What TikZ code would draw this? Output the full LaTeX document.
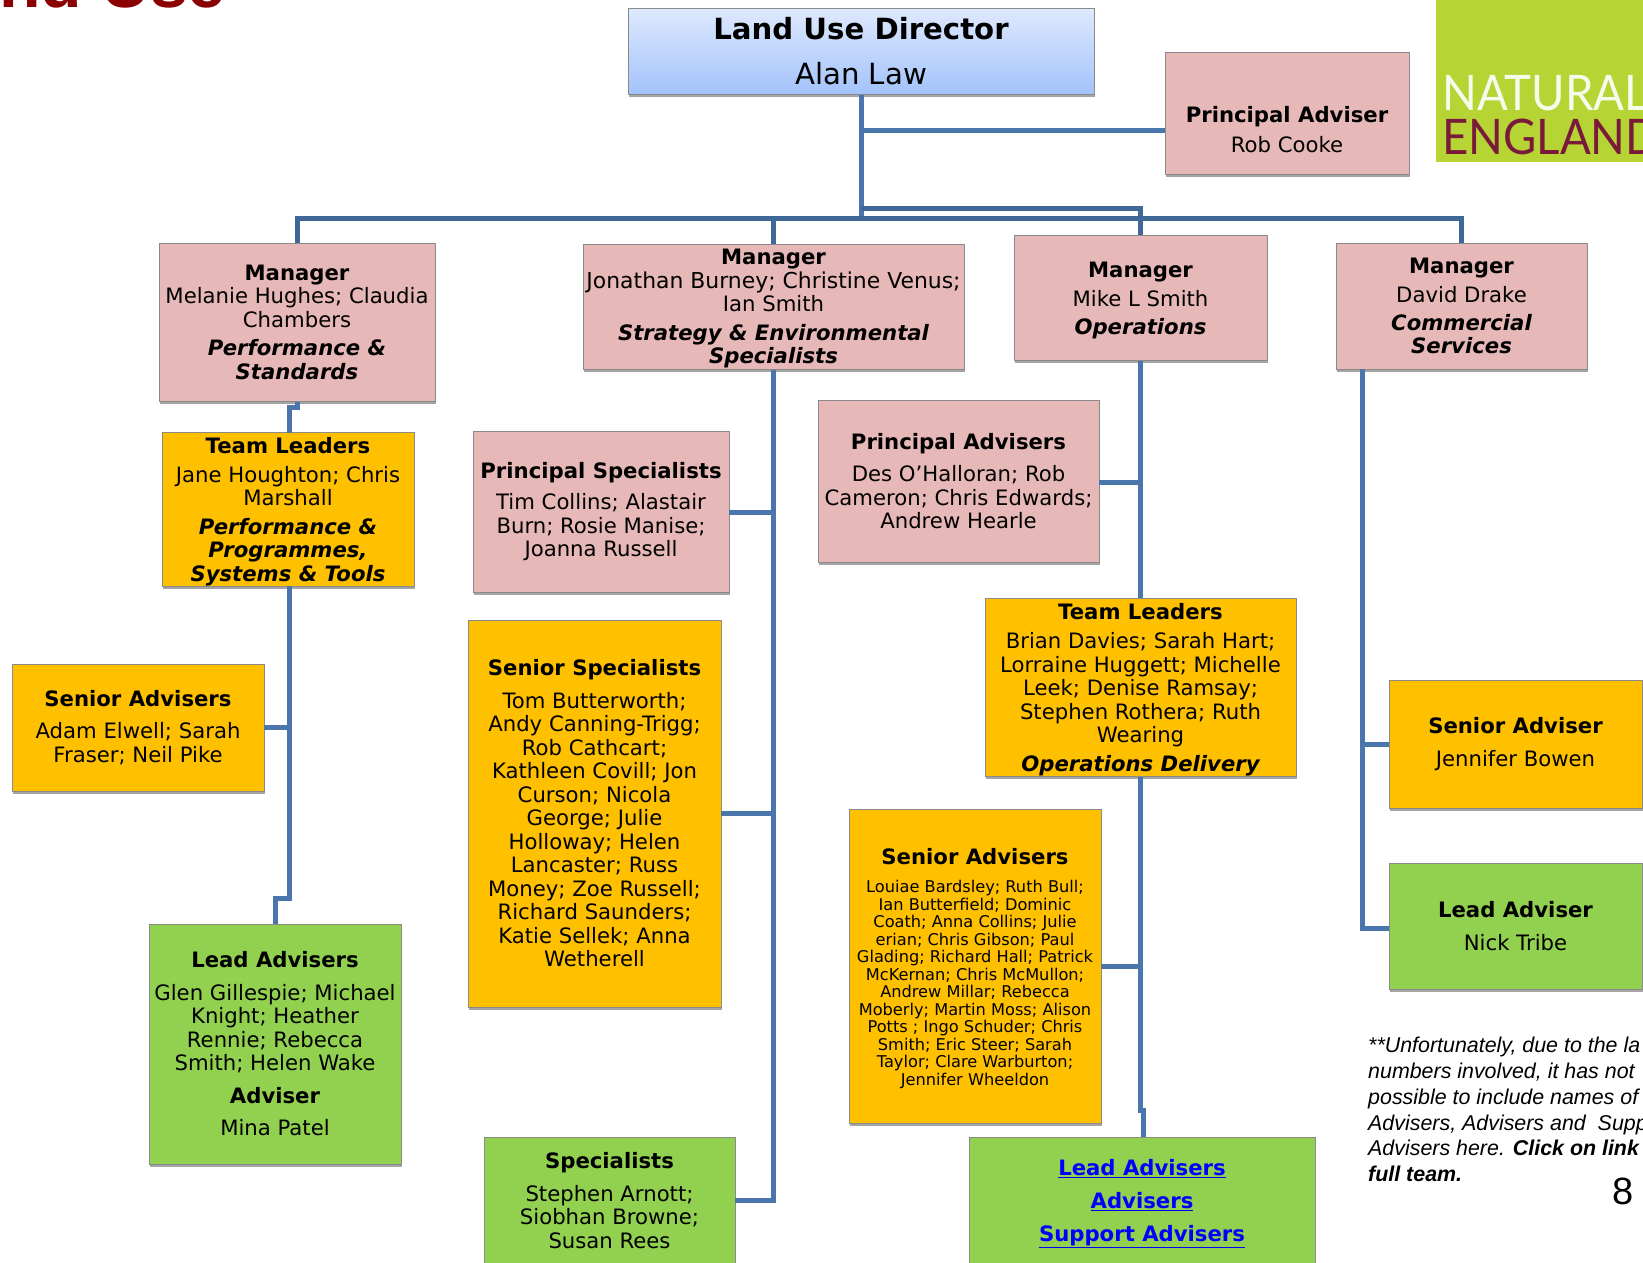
\documentclass[tikz,border=0pt]{standalone}
\usepackage{fontspec}
\setmainfont{DejaVu Sans}
\newfontfamily\arialf{Liberation Sans}
\newfontfamily\logof[FakeStretch=0.93]{Lato}
\usetikzlibrary{shadows,calc}
\definecolor{pinkb}{HTML}{E6B8B7}
\definecolor{amberb}{HTML}{FFC000}
\definecolor{greenb}{HTML}{92D050}
\definecolor{edgeb}{HTML}{8A8A8A}
\definecolor{lineb}{HTML}{4A76AB}
\definecolor{lined}{HTML}{3F6896}
\definecolor{logog}{HTML}{B6D433}
\definecolor{logor}{HTML}{7A1A3A}
\definecolor{titler}{HTML}{8B0000}
\definecolor{dirtop}{HTML}{DEE9FE}
\definecolor{dirbot}{HTML}{A3C3FB}
\tikzset{
  box/.style={draw=edgeb,line width=1pt,inner sep=0pt,align=center,
    drop shadow={shadow xshift=1pt,shadow yshift=-3pt,opacity=.5,fill=black!70},
    font=\fontsize{21.2}{23.5}\selectfont},
  pinkbox/.style={box,fill=pinkb},
  amberbox/.style={box,fill=amberb},
  greenbox/.style={box,fill=greenb},
  conn/.style={draw=lineb,line width=5pt,line join=miter},
  conndark/.style={draw=lined,line width=5pt,line join=miter},
}
\newcommand{\hd}[1]{{\bfseries #1}}
\newcommand{\rl}[1]{{\bfseries\itshape #1}}
\newcommand{\lnk}[1]{\textcolor{blue}{\bfseries\underline{#1}}}
\newcommand{\dn}[1]{\rule{0pt}{#1pt}}
\newcommand{\bx}[7]{\node[#6,minimum width={(#4-#2)*1pt},minimum height={(#5-#3)*1pt}] (#1) at ({(#2+#4)/2},{(#3+#5)/2}) {#7};}
\begin{document}
\begin{tikzpicture}[x=1pt,y=-1pt]
\useasboundingbox (0,0) rectangle (1643,1262);
\node[anchor=base east,inner sep=0pt,text=titler,font=\arialf\bfseries\fontsize{68}{68}\selectfont] (title) at (226,7) {nd Use};
\node[anchor=north west,fill=logog,inner sep=0pt,minimum width=207pt,minimum height=162pt] (logo) at (1436,0) {};
\node[anchor=base west,inner sep=0pt,text=white!90!logog,font=\logof\fontsize{49}{49}\selectfont] (logoa) at (1442,110) {NATURAL};
\node[anchor=base west,inner sep=0pt,text=logor,font=\logof\fontsize{49}{49}\selectfont] (logob) at (1442,154) {ENGLAND};

\node[draw=edgeb,line width=1pt,inner sep=0pt,align=center,top color=dirtop,bottom color=dirbot,
  drop shadow={shadow xshift=1pt,shadow yshift=-3pt,opacity=.5,fill=black!70},
  minimum width=466pt,minimum height=86pt,font=\fontsize{29.2}{45}\selectfont] (dir) at (861,51) {\hd{Land Use Director}\\Alan Law};

\bx{padv}{1165}{52}{1409}{174}{pinkbox}{\dn{49}\hd{Principal Adviser}\\[6pt]Rob Cooke}
\bx{mgra}{159}{243}{435}{401}{pinkbox}{\hd{Manager}\\Melanie Hughes; Claudia\\Chambers\\[5pt]\rl{Performance \&}\\\rl{Standards}}
\bx{mgrb}{583}{244}{964}{369}{pinkbox}{\dn{20}\hd{Manager}\\{\fontsize{21.9}{23.5}\selectfont Jonathan Burney; Christine Venus;}\\Ian Smith\\[5pt]\rl{Strategy \& Environmental}\\\rl{Specialists}}
\bx{mgrc}{1014}{235}{1267}{360}{pinkbox}{\dn{21}\hd{Manager}\\[6pt]Mike L Smith\\[4pt]\rl{Operations}}
\bx{mgrd}{1336}{243}{1587}{369}{pinkbox}{\hd{Manager}\\[6pt]David Drake\\[4pt]\rl{Commercial}\\\rl{Services}}
\bx{tla}{162}{433}{414}{586}{amberbox}{\dn{21}\hd{Team Leaders}\\[5pt]Jane Houghton; Chris\\Marshall\\[5pt]\rl{Performance \&}\\\rl{Programmes,}\\\rl{Systems \& Tools}}
\bx{psp}{473}{431}{729}{592}{pinkbox}{\hd{Principal Specialists}\\[8pt]Tim Collins; Alastair\\Burn; Rosie Manise;\\Joanna Russell}
\bx{pad}{818}{400}{1099}{562}{pinkbox}{\hd{Principal Advisers}\\[9pt]Des O’Halloran; Rob\\Cameron; Chris Edwards;\\Andrew Hearle}
\bx{tlc}{985}{598}{1296}{776}{amberbox}{\dn{21}\hd{Team Leaders}\\[6pt]Brian Davies; Sarah Hart;\\Lorraine Huggett; Michelle\\Leek; Denise Ramsay;\\Stephen Rothera; Ruth\\Wearing\\[5pt]\rl{Operations Delivery}}
\bx{saa}{12}{664}{264}{791}{amberbox}{\hd{Senior Advisers}\\[9pt]Adam Elwell; Sarah\\Fraser; Neil Pike}
\bx{ssp}{468}{620}{721}{1007}{amberbox}{\hd{Senior Specialists}\\[9pt]Tom Butterworth;\\Andy Canning-Trigg;\\Rob Cathcart;\\Kathleen Covill; Jon\\Curson; Nicola\\George; Julie\\Holloway; Helen\\Lancaster; Russ\\Money; Zoe Russell;\\Richard Saunders;\\Katie Sellek; Anna\\Wetherell}
\bx{sac}{849}{809}{1101}{1123}{amberbox,font=\fontsize{16.2}{17.5}\selectfont}{\dn{21}{\fontsize{21.2}{23.5}\selectfont\bfseries Senior Advisers}\\[11pt]Louiae Bardsley; Ruth Bull;\\Ian Butterfield; Dominic\\Coath; Anna Collins; Julie\\erian; Chris Gibson; Paul\\Glading; Richard Hall; Patrick\\McKernan; Chris McMullon;\\Andrew Millar; Rebecca\\Moberly; Martin Moss; Alison\\Potts ; Ingo Schuder; Chris\\Smith; Eric Steer; Sarah\\Taylor; Clare Warburton;\\Jennifer Wheeldon}
\bx{sad}{1389}{680}{1642}{808}{amberbox}{\hd{Senior Adviser}\\[9pt]Jennifer Bowen}
\bx{lad}{1389}{863}{1642}{989}{greenbox}{\hd{Lead Adviser}\\[9pt]Nick Tribe}
\bx{laa}{149}{924}{401}{1164}{greenbox}{\hd{Lead Advisers}\\[9pt]Glen Gillespie; Michael\\Knight; Heather\\Rennie; Rebecca\\Smith; Helen Wake\\[9pt]\hd{Adviser}\\[9pt]Mina Patel}
\bx{spe}{484}{1137}{735}{1264}{greenbox}{\hd{Specialists}\\[9pt]Stephen Arnott;\\Siobhan Browne;\\Susan Rees}
\bx{lac}{969}{1137}{1315}{1270}{greenbox}{\lnk{Lead Advisers}\\[9.5pt]\lnk{Advisers}\\[9.5pt]\lnk{Support Advisers}}

\node[anchor=north west,inner sep=0pt,align=left,font=\arialf\itshape\fontsize{21.4}{25.8}\selectfont] (note) at (1368,1037) {**Unfortunately, due to the la\\numbers involved, it has not\\possible to include names of\\Advisers, Advisers and\ \ Supp\\Advisers here. \textbf{Click on link}\\\textbf{full team.}};
\node[inner sep=0pt,font=\arialf\fontsize{38}{38}\selectfont] (pnum) at (1623,1191) {8};

\coordinate (barY) at (0,218);
\coordinate (topY) at (0,208);
\coordinate (padvJ) at (1165,130);
\coordinate (tlaT) at (289,433);
\coordinate (tlaB) at (289,586);
\coordinate (laaJ) at (275,898);
\coordinate (saaJ) at (264,727);
\coordinate (pspJ) at (729,512);
\coordinate (sspJ) at (721,813);
\coordinate (speJ) at (735,1200);
\coordinate (padJ) at (1099,482);
\coordinate (sacJ) at (1101,966);
\coordinate (lacT) at (1143,1137);
\coordinate (mgrdB) at (1362,369);
\coordinate (sadJ) at (1389,744);
\coordinate (ladJ) at (1389,928);

\draw[conn] (dir.south) -- (dir.south |- barY);
\draw[conn] (padvJ) -- (dir.south |- padvJ);
\draw[conndark] (mgra.north) -- (mgra.north |- barY) -- (mgrd.north |- barY) -- (mgrd.north);
\draw[conndark] (mgrb.north) -- (mgrb.north |- barY);
\draw[conndark] (dir.south |- topY) -- (mgrc.north |- topY) -- (mgrc.north);
\draw[conn] (mgra.south) -- (mgra.south |- 0,407) -- (tlaT |- 0,407) -- (tlaT);
\draw[conn] (tlaB) -- (tlaB |- laaJ) -- (laaJ) -- (laaJ |- laa.north);
\draw[conn] (saaJ) -- (saaJ -| tlaB);
\draw[conn] (mgrb.south) -- (mgrb.south |- speJ) -- (speJ);
\draw[conn] (pspJ) -- (pspJ -| mgrb.south);
\draw[conn] (sspJ) -- (sspJ -| mgrb.south);
\draw[conn] (mgrc.south) -- (tlc.north -| mgrc.south);
\draw[conn] (padJ) -- (padJ -| mgrc.south);
\draw[conn] (tlc.south -| mgrc.south) -- (mgrc.south |- 0,1110) -- (lacT |- 0,1110) -- (lacT);
\draw[conn] (sacJ) -- (sacJ -| mgrc.south);
\draw[conn] (mgrdB) -- (mgrdB |- ladJ) -- (ladJ);
\draw[conn] (sadJ) -- (sadJ -| mgrdB);
\end{tikzpicture}
\end{document}
